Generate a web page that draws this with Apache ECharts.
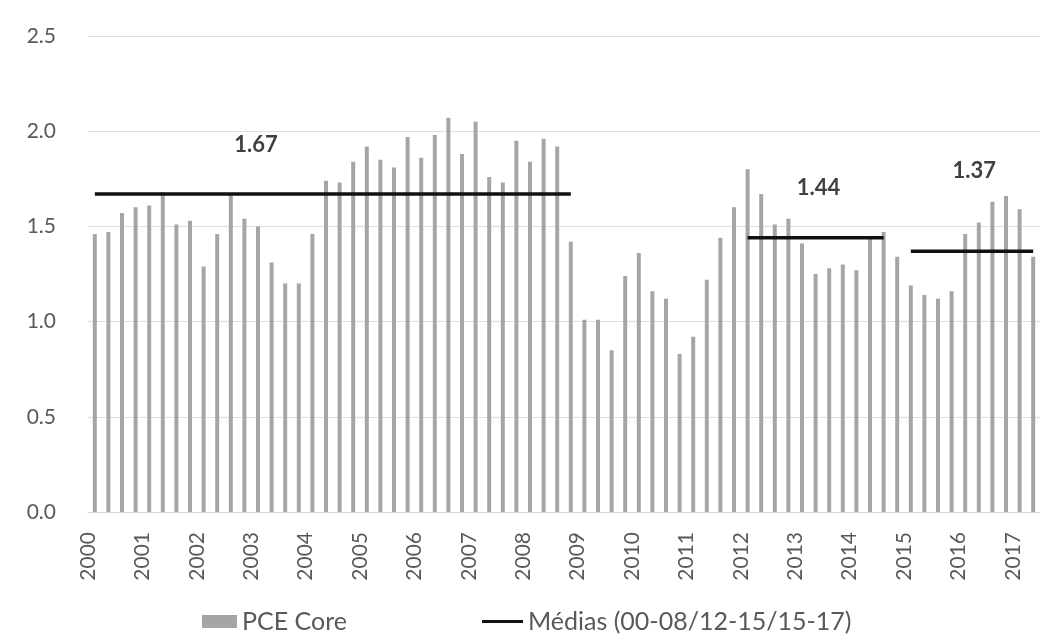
<!DOCTYPE html>
<html>
<head>
<meta charset="utf-8">
<title>PCE Core</title>
<script src="https://cdn.jsdelivr.net/npm/echarts@6/dist/echarts.min.js"></script>
<style>
  html, body { margin: 0; padding: 0; background: #ffffff; }
  #chart { width: 1040px; height: 641px; }
</style>
</head>
<body>
<div id="chart"></div>
<script>
// Year labels on the time axis (one per year, four quarters each)
const years = ['2000', '2001', '2002', '2003', '2004', '2005', '2006', '2007', '2008',
  '2009', '2010', '2011', '2012', '2013', '2014', '2015', '2016', '2017'];

// PCE Core, year-over-year %, quarterly from 2000 Q1 to 2017 Q2
const pceCore = [
  1.46, 1.47, 1.57, 1.60,   // 2000
  1.61, 1.68, 1.51, 1.53,   // 2001
  1.29, 1.46, 1.67, 1.54,   // 2002
  1.50, 1.31, 1.20, 1.20,   // 2003
  1.46, 1.74, 1.73, 1.84,   // 2004
  1.92, 1.85, 1.81, 1.97,   // 2005
  1.86, 1.98, 2.07, 1.88,   // 2006
  2.05, 1.76, 1.73, 1.95,   // 2007
  1.84, 1.96, 1.92, 1.42,   // 2008
  1.01, 1.01, 0.85, 1.24,   // 2009
  1.36, 1.16, 1.12, 0.83,   // 2010
  0.92, 1.22, 1.44, 1.60,   // 2011
  1.80, 1.67, 1.51, 1.54,   // 2012
  1.41, 1.25, 1.28, 1.30,   // 2013
  1.27, 1.44, 1.47, 1.34,   // 2014
  1.19, 1.14, 1.12, 1.16,   // 2015
  1.46, 1.52, 1.63, 1.66,   // 2016
  1.59, 1.34                // 2017
];

// Period averages: value and first/last quarter index covered
const avgValues = [1.67, 1.44, 1.37];
const avgStart  = [0, 48, 60];
const avgEnd    = [35, 58, 69];

const barName = 'PCE Core';
const lineName = 'Médias (00-08/12-15/15-17)';

// Quarter categories for the bars
const quarters = pceCore.map((_, i) => years[Math.floor(i / 4)] + 'T' + (i % 4 + 1));

// Boundary axis: one slot per quarter boundary, year printed at each Q1 start
const boundaries = [];
for (let i = 0; i <= quarters.length; i++) {
  boundaries.push(i % 4 === 0 && years[i / 4] ? years[i / 4] : '');
}

// Average line with gaps between periods; one labelled point per period
const labelSpots = [
  { idx: 12, distance: 38, offset: [-2, 0] },
  { idx: 53, distance: 39, offset: [3, 0] },
  { idx: 64, distance: 69, offset: [9, 0] }
];
const avgLine = quarters.map(() => null);
avgValues.forEach((v, k) => {
  for (let i = avgStart[k]; i <= avgEnd[k]; i++) avgLine[i] = v;
  const s = labelSpots[k];
  avgLine[s.idx] = {
    value: v,
    label: {
      show: true, position: 'top', distance: s.distance, offset: s.offset,
      formatter: (p) => Number(p.value).toFixed(2),
      fontFamily: 'Lato', fontWeight: 'bold', fontSize: 22, color: '#404040'
    }
  };
});

const textGray = '#595959';
const font = 'Lato';

const chart = echarts.init(document.getElementById('chart'), null, { renderer: 'canvas' });
chart.setOption({
  backgroundColor: '#ffffff',
  animation: false,
  grid: { left: 88, top: 36, right: -2, bottom: 129, containLabel: false },
  legend: [
    {
      data: [{ name: barName, icon: 'rect' }],
      left: 202, top: 609, padding: 0,
      itemWidth: 35, itemHeight: 13,
      textStyle: { fontFamily: font, fontSize: 25, color: textGray },
      selectedMode: false
    },
    {
      data: [{ name: lineName, icon: 'rect' }],
      left: 482, top: 609, padding: 0,
      itemWidth: 41, itemHeight: 3,
      textStyle: { fontFamily: font, fontSize: 25, color: textGray },
      selectedMode: false
    }
  ],
  xAxis: [
    {
      type: 'category',
      data: quarters,
      boundaryGap: true,
      axisLine: { show: true, lineStyle: { color: '#d9d9d9', width: 1 } },
      axisTick: { show: false },
      axisLabel: { show: false },
      splitLine: { show: false }
    },
    {
      type: 'category',
      data: boundaries,
      boundaryGap: false,
      position: 'bottom',
      axisLine: { show: false },
      axisTick: { show: false },
      axisLabel: {
        show: true, interval: 0, rotate: 90, margin: 20,
        fontFamily: font, fontSize: 21, color: textGray
      },
      splitLine: { show: false }
    }
  ],
  yAxis: {
    type: 'value',
    min: 0, max: 2.5, interval: 0.5,
    axisLine: { show: false },
    axisTick: { show: false },
    axisLabel: {
      margin: 32, fontFamily: font, fontSize: 21, color: textGray,
      formatter: (v) => v.toFixed(1)
    },
    splitLine: { show: true, lineStyle: { color: '#dedede', width: 1 } }
  },
  series: [
    {
      name: barName,
      type: 'bar',
      xAxisIndex: 0,
      data: pceCore,
      barWidth: 4,
      itemStyle: { color: '#a5a5a5' }
    },
    {
      name: lineName,
      type: 'line',
      xAxisIndex: 0,
      data: avgLine,
      connectNulls: false,
      symbol: 'circle',
      symbolSize: 0,
      showSymbol: true,
      showAllSymbol: true,
      lineStyle: { color: '#111111', width: 3.5 },
      itemStyle: { color: '#111111' },
      z: 3
    }
  ]
});
</script>
</body>
</html>
